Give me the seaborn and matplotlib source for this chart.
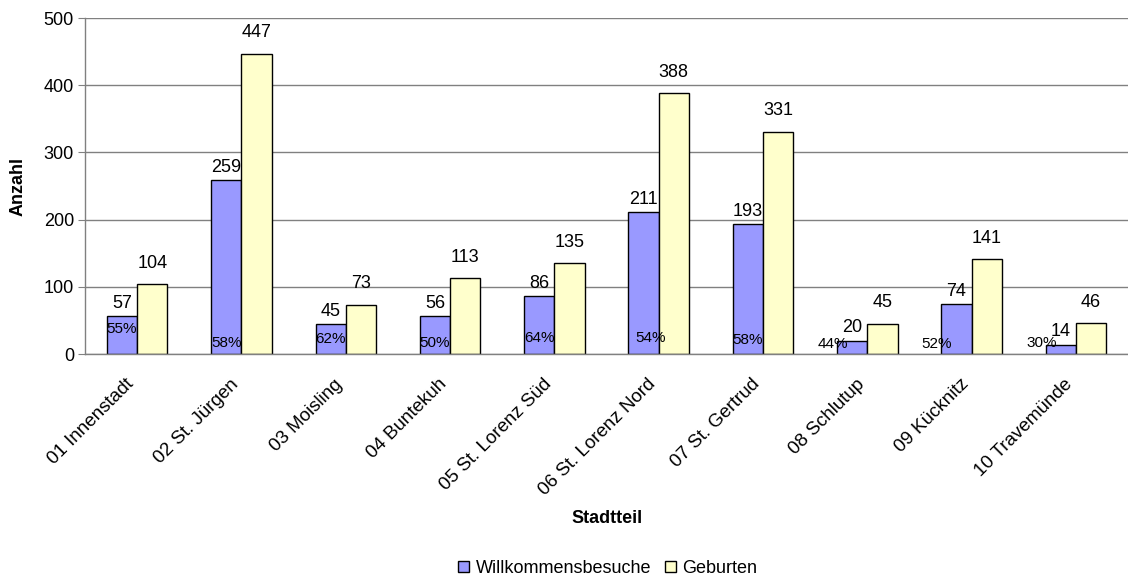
import numpy as np
import pandas as pd
import seaborn as sns
import matplotlib.pyplot as plt
import matplotlib.transforms as mtransforms
from matplotlib.patches import Patch

sns.set_style('white')
plt.rcParams['font.family'] = ['Liberation Sans', 'DejaVu Sans']
plt.rcParams.update({'text.color': 'black', 'axes.labelcolor': 'black',
                     'xtick.labelcolor': 'black', 'ytick.labelcolor': 'black'})

# Daten
stadtteile = ['01 Innenstadt', '02 St. Jürgen', '03 Moisling', '04 Buntekuh',
              '05 St. Lorenz Süd', '06 St. Lorenz Nord', '07 St. Gertrud',
              '08 Schlutup', '09 Kücknitz', '10 Travemünde']
besuche = [57, 259, 45, 56, 86, 211, 193, 20, 74, 14]
geburten = [104, 447, 73, 113, 135, 388, 331, 45, 141, 46]
quote = ['55%', '58%', '62%', '50%', '64%', '54%', '58%', '44%', '52%', '30%']

serien = ['Willkommensbesuche', 'Geburten']
farben = ['#9999FF', '#FFFFCC']

df = pd.DataFrame({
    'Stadtteil': stadtteile * 2,
    'Anzahl': besuche + geburten,
    'Serie': [serien[0]] * len(stadtteile) + [serien[1]] * len(stadtteile),
})

fig = plt.figure(figsize=(11.28, 5.79), dpi=100)
ax = fig.add_axes([0.0754, 0.3886, 0.9246, 0.5803])

sns.barplot(data=df, x='Stadtteil', y='Anzahl', hue='Serie', palette=farben,
            saturation=1, width=0.58, edgecolor='black', linewidth=1,
            legend=False, ax=ax)

ax.set_ylim(0, 500)
ax.set_xlim(-0.5, len(stadtteile) - 0.5)
ax.set_yticks(range(0, 501, 100))
ax.yaxis.grid(True, color='#808080', linewidth=1)
ax.set_axisbelow(True)
for s in ['top', 'right']:
    ax.spines[s].set_visible(False)
for s in ['left', 'bottom']:
    ax.spines[s].set_color('#808080')
    ax.spines[s].set_linewidth(1)

# Wertelabels
ax.bar_label(ax.containers[0], labels=[str(v) for v in besuche], padding=3, fontsize=13)
ax.bar_label(ax.containers[1], labels=[str(v) for v in geburten], padding=9, fontsize=13)

# Prozentwerte im blauen Balken
pct_dx = [0, 0, 0, 0, 0, 5, 0, -14, -14, -14]
pct_dy = [13, 3, 5.5, 3, 6.5, 6.5, 5, 2.5, 2.5, 3]
for i, p in enumerate(ax.containers[0].patches):
    ax.annotate(quote[i], xy=(p.get_x() + p.get_width() / 2, 0),
                xytext=(pct_dx[i], pct_dy[i]), textcoords='offset points',
                ha='center', va='bottom', fontsize=11)

# x-Achse: Striche zwischen den Kategorien
ax.set_xticks(np.arange(len(stadtteile)))
ax.set_xticklabels(stadtteile, rotation=45, ha='right', va='center',
                   rotation_mode='anchor', fontsize=13.5)
ax.set_xticks(np.arange(len(stadtteile) + 1) - 0.5, minor=True)
ax.tick_params(axis='x', which='major', length=0, pad=20)
ax.tick_params(axis='x', which='minor', length=5, color='#808080', direction='out')
ax.tick_params(axis='y', length=5, color='#808080', direction='out', labelsize=13, pad=3)
ax.tick_params(axis='both', bottom=True, left=True)
ax.tick_params(axis='x', which='major', bottom=False)
off = mtransforms.ScaledTranslation(-4 / 72, 0, fig.dpi_scale_trans)
for lab in ax.get_xticklabels():
    lab.set_transform(lab.get_transform() + off)

ax.set_xlabel('Stadtteil', fontsize=13, fontweight='bold')
ax.set_ylabel('Anzahl', fontsize=13, fontweight='bold', labelpad=12)
ax.xaxis.set_label_coords(0.5, -0.464)

handles = [Patch(facecolor=c, edgecolor='black', linewidth=1) for c in farben]
fig.legend(handles, serien, loc='center', bbox_to_anchor=(0.539, 0.018), ncol=2,
           frameon=False, fontsize=13, handlelength=0.6, handleheight=0.6,
           handletextpad=0.35, columnspacing=0.8, borderpad=0.0)

fig.savefig('out.png', dpi=100)
